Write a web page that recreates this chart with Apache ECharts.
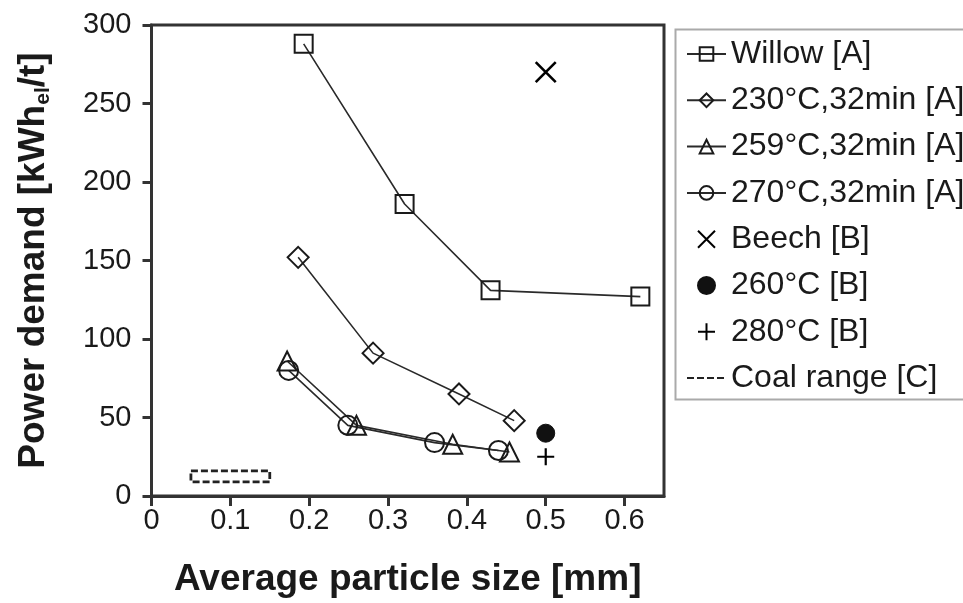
<!DOCTYPE html>
<html>
<head>
<meta charset="utf-8">
<script src="https://cdn.jsdelivr.net/npm/echarts@6/dist/echarts.min.js"></script>
<style>
  html, body { margin: 0; padding: 0; background: #fff; }
  #chart { width: 963px; height: 603px; }
</style>
</head>
<body>
<div id="chart"></div>
<script>
// Average particle size [mm] and power demand [kWh_el/t] per material
const willowX = [0.193, 0.321, 0.43, 0.62];
const willowY = [288, 186, 131, 127];
const t230X = [0.186, 0.281, 0.39, 0.46];
const t230Y = [152, 91, 65, 48];
const t259X = [0.172, 0.26, 0.382, 0.454];
const t259Y = [86, 45, 33, 28];
const t270X = [0.174, 0.249, 0.359, 0.44];
const t270Y = [80, 45, 34, 29];
const beechX = [0.5];
const beechY = [270];
const b260X = [0.5];
const b260Y = [40];
const b280X = [0.5];
const b280Y = [25];
// Coal range: particle size span and power demand span
const coalX = [0.05, 0.15];
const coalY = [9, 16];

const seriesNames = ['Willow [A]', '230°C,32min [A]', '259°C,32min [A]', '270°C,32min [A]',
                     'Beech [B]', '260°C [B]', '280°C [B]', 'Coal range [C]'];
const xTicks = [0, 0.1, 0.2, 0.3, 0.4, 0.5, 0.6];
const yTicks = [0, 50, 100, 150, 200, 250, 300];

const FONT = '"Liberation Sans", Arial, Helvetica, sans-serif';
const INK = '#1a1a1a';

function pairs(xs, ys) { return xs.map((x, i) => [x, ys[i]]); }

const coalBox = [
  [coalX[0], coalY[1]], [coalX[1], coalY[1]], [coalX[1], coalY[0]],
  [coalX[0], coalY[0]], [coalX[0], coalY[1]]
];

const markerStyle = { color: 'rgba(0,0,0,0)', borderColor: INK, borderWidth: 2 };
const lineStyle = { color: '#2a2a2a', width: 1.6 };

function lineSeries(name, xs, ys, symbol, size) {
  return {
    name, type: 'line', data: pairs(xs, ys), symbol, symbolSize: size,
    showAllSymbol: true, lineStyle, itemStyle: markerStyle, z: 3
  };
}

const crossPath = 'path://M0,0L10,10M10,0L0,10';
const plusPath = 'path://M5,0L5,10M0,5L10,5';

const legendData = seriesNames.map((name, i) =>
  i === 7 ? { name, itemStyle: { color: 'rgba(0,0,0,0)', borderWidth: 0 } } : { name });

const option = {
  animation: false,
  backgroundColor: '#fff',
  textStyle: { fontFamily: FONT },
  grid: { left: 151.5, right: 299, top: 25, bottom: 106, show: true, borderColor: '#333', borderWidth: 3 },
  xAxis: {
    type: 'value', min: 0, max: 0.65, interval: 0.1,
    name: 'Average particle size [mm]', nameLocation: 'middle', nameGap: 65,
    nameTextStyle: { fontSize: 37, fontWeight: 'bold', color: INK, fontFamily: FONT },
    axisLine: { show: true, onZero: false, lineStyle: { color: '#333', width: 3 } },
    axisTick: { show: true, length: 10, lineStyle: { color: '#333', width: 3 } },
    axisLabel: {
      fontSize: 29, color: INK, margin: 10, fontFamily: FONT, showMaxLabel: false,
      formatter: v => (xTicks.includes(+v.toFixed(2)) ? (v === 0 ? '0' : v.toFixed(1)) : '')
    },
    splitLine: { show: false }
  },
  yAxis: {
    type: 'value', min: 0, max: 300, interval: 50,
    name: '{a|Power demand [kWh}{s|el}{a|/t]}', nameLocation: 'middle', nameGap: 98, nameRotate: 90,
    nameTextStyle: {
      rich: {
        a: { fontSize: 37, fontWeight: 'bold', color: INK, fontFamily: FONT, lineHeight: 40 },
        s: { fontSize: 21, fontWeight: 'bold', color: INK, fontFamily: FONT, lineHeight: 21, verticalAlign: 'bottom' }
      }
    },
    axisLine: { show: true, onZero: false, lineStyle: { color: '#333', width: 3 } },
    axisTick: { show: true, length: 9, lineStyle: { color: '#333', width: 3 } },
    axisLabel: {
      fontSize: 29, color: INK, margin: 20, fontFamily: FONT,
      formatter: v => (yTicks.includes(v) ? String(v) : '')
    },
    splitLine: { show: false }
  },
  legend: {
    orient: 'vertical', left: 681, top: 31,
    itemWidth: 39, itemHeight: 17, itemGap: 10.3,
    data: legendData,
    selectedMode: false,
    textStyle: { fontSize: 32, color: INK, fontFamily: FONT, lineHeight: 36 }
  },
  graphic: [{
    type: 'rect', left: 673, top: 27,
    shape: { width: 320, height: 370 },
    style: { fill: 'none', stroke: '#aaa', lineWidth: 2 }
  }],
  series: [
    lineSeries(seriesNames[0], willowX, willowY, 'rect', 18),
    lineSeries(seriesNames[1], t230X, t230Y, 'diamond', 21),
    lineSeries(seriesNames[2], t259X, t259Y, 'triangle', 19),
    lineSeries(seriesNames[3], t270X, t270Y, 'circle', 19),
    {
      name: seriesNames[4], type: 'scatter', data: pairs(beechX, beechY),
      symbol: crossPath, symbolSize: 20,
      itemStyle: { color: 'rgba(0,0,0,0)', borderColor: '#000', borderWidth: 2.6, opacity: 1 }, z: 3
    },
    {
      name: seriesNames[5], type: 'scatter', data: pairs(b260X, b260Y),
      symbol: 'circle', symbolSize: 18,
      itemStyle: { color: '#111', borderColor: '#111', borderWidth: 1, opacity: 1 }, z: 3
    },
    {
      name: seriesNames[6], type: 'scatter', data: pairs(b280X, b280Y),
      symbol: plusPath, symbolSize: 17,
      itemStyle: { color: 'rgba(0,0,0,0)', borderColor: '#000', borderWidth: 2.2, opacity: 1 }, z: 3
    },
    {
      name: seriesNames[7], type: 'line', data: coalBox, symbol: 'none',
      lineStyle: { color: '#222', width: 2.8, type: [7, 3] },
      itemStyle: { color: '#222' }, z: 2
    }
  ]
};

const chart = echarts.init(document.getElementById('chart'), null, { renderer: 'canvas' });
chart.setOption(option);
</script>
</body>
</html>
